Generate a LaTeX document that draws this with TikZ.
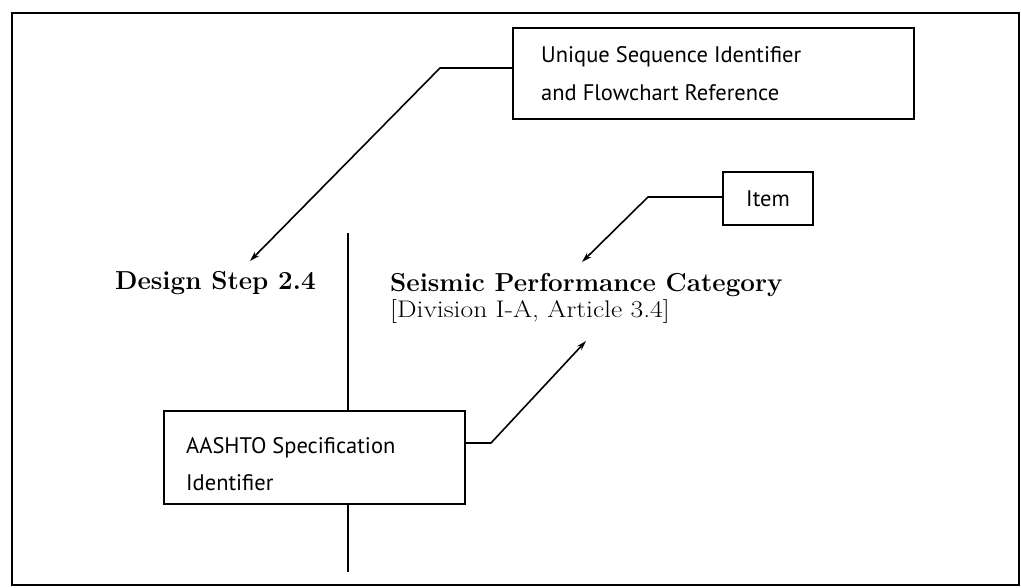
\documentclass[tikz,border=0pt]{standalone}
\usepackage{fontspec}
\newfontfamily\handfont{PT Sans}
\usetikzlibrary{arrows.meta}
\begin{document}
\begin{tikzpicture}[x=1pt,y=-1pt,
  frame/.style={line width=2.8pt},
  notebox/.style={draw, line width=1.8pt, fill=white, inner sep=0pt},
  note/.style={anchor=base west, inner sep=0pt, font=\handfont\fontsize{22.5}{27}\selectfont},
  title/.style={anchor=base west, inner sep=0pt, font=\bfseries\fontsize{26}{30}\selectfont},
  subtitle/.style={anchor=base west, inner sep=0pt, font=\fontsize{24}{28}\selectfont},
  link/.style={line width=1.6pt, line join=miter},
  pointer/.style={link, -{Stealth[length=10pt,width=6pt]}},
  divider/.style={line width=1.6pt}]
\useasboundingbox (0,0) rectangle (1021,588);
\draw[frame] (12,13) rectangle (1019,585);

% vertical divider behind the specification box
\coordinate (dtop) at (348,233);
\coordinate (dbot) at (348,572);
\draw[divider] (dtop) -- (dbot);

% headings
\node[title] (ds) at (115,290) {Design Step 2.4};
\node[title] (spc) at (390,292) {Seismic Performance Category};
\node[subtitle] (art) at (390,318) {\scalebox{1.15}[1]{[Division I-A, Article 3.4]}};

% annotation boxes
\node[notebox, minimum width=401pt, minimum height=91pt] (usi) at (713.5,73.5) {};
\node[note] (usi1) at (541,63) {Unique Sequence Identifier};
\node[note] (usi2) at (541,101) {and Flowchart Reference};

\node[notebox, minimum width=90pt, minimum height=53pt] (item) at (768,198.5) {};
\node[note] (itemtext) at (746,207) {Item};

\node[notebox, minimum width=301pt, minimum height=93pt] (spec) at (314.5,457.5) {};
\node[note] (spec1) at (186,453) {AASHTO Specification};
\node[note] (spec2) at (186,490) {Identifier};

% leader elbows and arrow tips
\coordinate (e1) at (440,68);
\coordinate (t1) at (250,261);
\coordinate (e2) at (648,197);
\coordinate (t2) at (582,262);
\coordinate (e3) at (491,443);
\coordinate (t3) at (586,341);

\draw[pointer] (usi.west |- e1) -- (e1) -- (t1);
\draw[pointer] (item.west |- e2) -- (e2) -- (t2);
\draw[pointer] (spec.east |- e3) -- (e3) -- (t3);
\end{tikzpicture}
\end{document}
